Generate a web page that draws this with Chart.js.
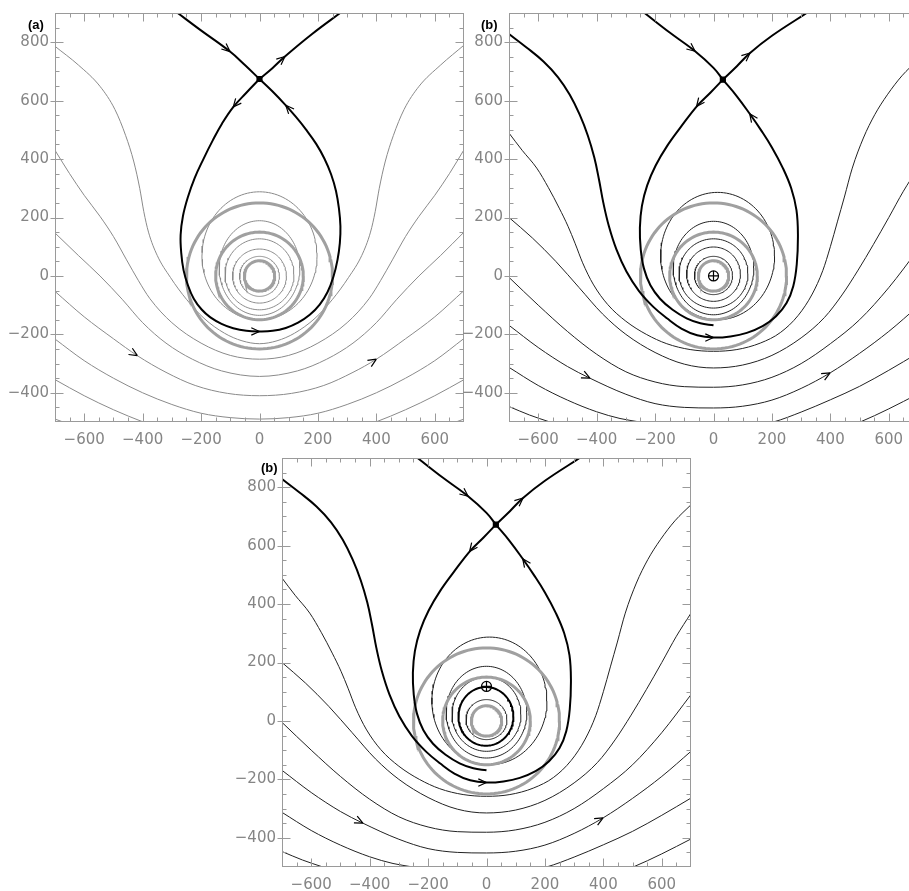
<!DOCTYPE html>
<html><head><meta charset="utf-8">
<script src="https://cdn.jsdelivr.net/npm/chart.js@4.4.1/dist/chart.umd.min.js"></script>
<style>
html,body{margin:0;padding:0;background:#fff;overflow:hidden;width:909px;height:891px;position:relative;}
.panel{position:absolute;}
.lab{position:absolute;font:bold 13px "Liberation Sans",Arial,sans-serif;color:#000;line-height:13px;}
</style></head><body>
<div class="panel" style="left:0px;top:-7px"><canvas id="ca" width="480" height="459"></canvas></div>
<div class="panel" style="left:454px;top:-7px"><canvas id="cb" width="480" height="459"></canvas></div>
<div class="panel" style="left:227px;top:438px"><canvas id="cc" width="480" height="459"></canvas></div>
<div class="lab" style="left:28px;top:18px">(a)</div>
<div class="lab" style="left:481px;top:18px">(b)</div>
<div class="lab" style="left:261px;top:461px">(b)</div>
<script>
// ---------- tick labels ----------
const xTickValues = [-600,-400,-200,0,200,400,600];
const yTickValues = [-400,-200,0,200,400,600,800];
const panelLabels = ['(a)','(b)','(b)'];

// thick grey rings, centred on the origin (radius)
const grayRingRadii = [52,150,250];

// ---------- panel (a) ----------
const aXPoint = [[0,674]];
const aSepTopLeft  = [[-280,900],[-204,843],[-101,768],[-50,722],[0,674]];
const aSepTopRight = [[0,674],[45,712],[87,751],[180,828],[276,900]];
const aSepLoop = [[0,674],[-45,627],[-90,578],[-128,522],[-160,464],[-192,400],[-222,335],[-245,270],[-262,205],[-270,140],[-268,80],[-260,20],[-245,-32],[-225,-78],[-198,-115],[-168,-142],[-130,-164],[-90,-179],[-45,-188],[0,-190],[45,-188],[90,-178],[132,-160],[172,-133],[206,-98],[233,-55],[253,-3],[267,55],[275,112],[277,170],[272,230],[262,290],[245,348],[222,402],[194,452],[160,500],[124,545],[86,588],[44,632],[0,674]];
// closed thin loops: [cx, cy, rx, ryTop, ryBottom]
const aRings = [[0,68,197,220,218],[0,27,138,162,162],[0,5,118,122,121],[0,0,92,92,93],[0,-1,68,68,69]];
const aStream1 = [[-700,786],[-620,722],[-546,649],[-495,570],[-458,480],[-430,390],[-410,300],[-396,220],[-380,150],[-350,70],[-305,-5],[-250,-80],[-190,-145],[-120,-196],[-60,-222],[0,-232],[60,-222],[120,-196],[190,-145],[250,-80],[305,-5],[350,70],[380,150],[396,220],[410,300],[430,390],[458,480],[495,570],[546,649],[620,722],[700,790]];
const aStream2 = [[-700,430],[-650,350],[-600,276],[-546,204],[-500,135],[-455,55],[-415,-15],[-375,-78],[-300,-160],[-200,-230],[-100,-272],[0,-285],[100,-272],[200,-230],[300,-160],[375,-78],[415,-15],[455,55],[500,135],[546,204],[600,276],[650,350],[700,432]];
const aStream3 = [[-700,147],[-620,70],[-546,0],[-470,-80],[-400,-160],[-320,-230],[-230,-285],[-130,-325],[0,-344],[130,-325],[230,-285],[320,-230],[400,-160],[470,-80],[546,0],[620,70],[700,150]];
const aStream4 = [[-700,-53],[-600,-140],[-500,-215],[-418,-273],[-320,-330],[-220,-375],[-110,-402],[0,-410],[110,-402],[220,-375],[320,-330],[400,-285],[500,-215],[600,-140],[700,-50]];
const aStream5 = [[-700,-216],[-600,-290],[-500,-350],[-400,-400],[-300,-440],[-200,-470],[-100,-485],[0,-490],[100,-485],[200,-470],[300,-440],[400,-400],[500,-350],[600,-290],[700,-214]];
const aStream6 = [[-700,-355],[-600,-410],[-500,-458],[-398,-500],[-300,-535],[-150,-560],[0,-568],[150,-560],[300,-535],[398,-500],[500,-458],[600,-410],[700,-355]];
const aStream7 = [[-700,-490],[-672,-500],[-600,-530],[-450,-580],[-300,-610],[0,-640],[300,-610],[450,-580],[600,-530],[672,-500],[700,-490]];
// arrows: [x, y, dirX, dirY]
const aArrows = [[-101,768,1,-0.85],[87,751,1,0.85],[-90,578,-1,-1.2],[90,584,-1,1.1],[0,-190,1,0],[-418,-273,1,-0.62],[400,-285,1,0.62]];

// ---------- panels (b) : shared streamlines ----------
const bcXPoint = [[32,672]];
const bcSepTopLeft  = [[-236,900],[-150,833],[-63,769],[0,712],[32,672]];
const bcSepTopRight = [[32,672],[80,718],[125,763],[200,822],[319,900]];
const bcSepOuter = [[-700,828],[-640,782],[-582,734],[-532,680],[-492,620],[-458,552],[-430,480],[-408,405],[-392,330],[-377,250],[-358,170],[-332,90],[-298,15],[-255,-52],[-206,-106],[-158,-146],[-110,-180],[-56,-203],[0,-211],[58,-207],[114,-195],[168,-172],[214,-138],[250,-93],[273,-35],[285,40],[289,141],[284,225],[266,300],[237,370],[200,440],[162,500],[124,555],[80,615],[32,672]];
const bcSepInner = [[32,672],[-10,628],[-55,583],[-108,515],[-158,446],[-198,378],[-227,310],[-245,240],[-252,165],[-249,90],[-238,25],[-216,-32],[-183,-78],[-140,-116],[-92,-145],[-45,-162],[0,-169]];
const bcStream1 = [[-700,489],[-655,430],[-605,369],[-565,302],[-528,232],[-498,170],[-474,112],[-448,45],[-412,-28],[-362,-98],[-300,-155],[-230,-200],[-160,-232],[-80,-252],[0,-258],[80,-252],[160,-230],[230,-193],[290,-135],[338,-62],[374,18],[400,100],[424,185],[448,270],[475,369],[513,472],[552,552],[595,620],[645,685],[700,740]];
const bcStream2 = [[-700,200],[-620,130],[-540,50],[-460,-40],[-380,-130],[-300,-200],[-200,-262],[-100,-302],[0,-315],[100,-305],[200,-272],[300,-212],[380,-142],[440,-65],[495,20],[547,107],[600,200],[650,290],[700,369]];
const bcStream3 = [[-700,-5],[-600,-100],[-500,-190],[-400,-268],[-300,-328],[-200,-363],[-100,-379],[0,-381],[100,-373],[200,-347],[300,-300],[400,-232],[500,-150],[600,-40],[700,90]];
const bcStream4 = [[-700,-169],[-600,-245],[-500,-310],[-423,-350],[-300,-405],[-200,-437],[-100,-450],[0,-452],[100,-446],[200,-425],[300,-385],[399,-332],[500,-265],[600,-190],[700,-104]];
const bcStream5 = [[-700,-313],[-600,-375],[-500,-425],[-400,-465],[-320,-488],[-252,-500],[-150,-520],[0,-530],[100,-520],[205,-500],[300,-466],[400,-424],[500,-378],[600,-323],[700,-264]];
const bcStream6 = [[-700,-447],[-630,-476],[-560,-500],[-450,-535],[-300,-570],[0,-600],[300,-575],[502,-500],[600,-455],[700,-404]];
const bcArrows = [[-63,769,1,-0.8],[125,763,1,0.85],[-58,580,-1,-1.3],[124,555,-1,1.4],[0,-211,1,0],[-423,-350,1,-0.5],[399,-332,1,0.55]];

const bRings = [[14,68,195,218,218],[0,27,138,160,160],[0,8,118,119,118],[0,6,92,93,93],[0,1,65,66,65]];
const bCross = [[0,0]];

const cRings = [[10,68,197,219,218],[0,28,138,159,155],[0,22,118,128,126],[0,4,70,69,68]];
const cOrbit = [[-2,15,94,101,100]];
const cCross = [[0,118]];

// ---------- helpers ----------
function pts(arr){ return arr.map(p => ({x:p[0], y:p[1]})); }
function ringPts(r){
  const [cx,cy,rx,ryT,ryB] = r; const out = [];
  for (let i=0;i<=120;i++){ const t=i/120*2*Math.PI, s=Math.sin(t);
    out.push({x:cx+rx*Math.cos(t), y:cy+(s>=0?ryT:ryB)*s}); }
  return out;
}
function lineDS(data, color, width, mode){
  const ds = {data, showLine:true, borderColor:color, borderWidth:width, pointRadius:0, fill:false, clip:0};
  if (mode === 'mono') { ds.cubicInterpolationMode = 'monotone'; }
  else if (mode === 'straight') { ds.tension = 0; }
  else { ds.tension = 0.4; }
  return ds;
}
function pointDS(arr, style, radius, fillColor){
  return {data:pts(arr), showLine:false, pointStyle:style, pointRadius:radius,
          pointBackgroundColor:fillColor, pointBorderColor:'#000', pointBorderWidth:1.2, clip:0};
}
function fmt(v){ return v<0 ? '\u2212'+Math.abs(v) : String(v); }

const framePlugin = {id:'frame', afterDraw(chart){
  const {ctx, chartArea:a, scales:{x,y}} = chart;
  ctx.save(); ctx.strokeStyle='#9a9a9a'; ctx.lineWidth=1;
  const L=Math.round(a.left)+0.5, R=Math.round(a.right)-0.5, T=Math.round(a.top)+0.5, B=Math.round(a.bottom)-0.5;
  ctx.strokeRect(L,T,R-L,B-T);
  ctx.beginPath();
  for (let v=-650; v<700; v+=50){
    const len = xTickValues.includes(v) ? 8 : 4;
    const px = Math.round(x.getPixelForValue(v))+0.5;
    ctx.moveTo(px,B); ctx.lineTo(px,B-len); ctx.moveTo(px,T); ctx.lineTo(px,T+len);
  }
  for (let v=-450; v<900; v+=50){
    const major = yTickValues.includes(v);
    const len = major ? 8 : 4;
    const py = Math.round(y.getPixelForValue(v))+0.5;
    ctx.moveTo(major ? L-5 : L,py); ctx.lineTo(L+len,py); ctx.moveTo(R,py); ctx.lineTo(R-len,py);
  }
  ctx.stroke(); ctx.restore();
}};

function arrowPlugin(list){ return {id:'arrows', afterDatasetsDraw(chart){
  const {ctx, chartArea:a, scales:{x,y}} = chart;
  ctx.save(); ctx.beginPath(); ctx.rect(a.left,a.top,a.right-a.left,a.bottom-a.top); ctx.clip();
  ctx.strokeStyle='#000'; ctx.lineWidth=1.2; ctx.beginPath();
  list.forEach(([vx,vy,dx,dy]) => {
    const px=x.getPixelForValue(vx), py=y.getPixelForValue(vy);
    const ux = x.getPixelForValue(vx+dx)-px, uy = y.getPixelForValue(vy+dy)-py;
    const n=Math.hypot(ux,uy), cx=ux/n, cy=uy/n, Lh=9, ang=0.42;
    [ang,-ang].forEach(t => {
      const bx = -(cx*Math.cos(t)-cy*Math.sin(t)), by = -(cx*Math.sin(t)+cy*Math.cos(t));
      ctx.moveTo(px,py); ctx.lineTo(px+bx*Lh, py+by*Lh);
    });
  });
  ctx.stroke(); ctx.restore();
}}; }

function makeChart(id, datasets, arrows){
  const tickFont = {family:'DejaVu Sans', size:15};
  return new Chart(document.getElementById(id), {
    type:'scatter', data:{datasets},
    options:{
      responsive:false, animation:false, devicePixelRatio:1, events:[],
      layout:{padding:{left:0, top:20, right:16, bottom:0}},
      plugins:{legend:{display:false}, tooltip:{enabled:false}},
      scales:{
        x:{type:'linear', min:-700, max:700,
           afterBuildTicks:s=>{ s.ticks = xTickValues.map(v=>({value:v})); },
           afterFit:s=>{ s.height = 30; },
           ticks:{color:'#858585', font:tickFont, padding:9, maxRotation:0, autoSkip:false, callback:fmt},
           grid:{display:false, drawTicks:false}, border:{display:false}},
        y:{type:'linear', min:-500, max:900,
           afterBuildTicks:s=>{ s.ticks = yTickValues.map(v=>({value:v})); },
           afterFit:s=>{ s.width = 55; },
           ticks:{color:'#858585', font:tickFont, padding:6, autoSkip:false, callback:fmt},
           grid:{display:false, drawTicks:false}, border:{display:false}}
      }
    },
    plugins:[framePlugin, arrowPlugin(arrows)]
  });
}

const GREY_THIN = '#8a8a8a', GREY_RING = '#a0a0a0', BLACK = '#000', DARK = '#222';
const ringSet = () => grayRingRadii.map(r => lineDS(ringPts([0,0,r,r,r]), GREY_RING, 3, 'straight'));

// panel (a)
makeChart('ca', [
  pointDS(aXPoint,'rect',3.5,'#000'),
  lineDS(pts(aSepTopLeft), BLACK, 2),
  lineDS(pts(aSepTopRight), BLACK, 2),
  lineDS(pts(aSepLoop), BLACK, 2),
  ...ringSet(),
  ...aRings.map(r => lineDS(ringPts(r), GREY_THIN, 1, 'straight')),
  ...[aStream1,aStream2,aStream3,aStream4,aStream5,aStream6,aStream7].map(s => lineDS(pts(s), GREY_THIN, 1, 'mono'))
], aArrows);

function bcStreams(){ return [bcStream1,bcStream2,bcStream3,bcStream4,bcStream5,bcStream6].map(s => lineDS(pts(s), DARK, 1, 'mono')); }
function bcSeps(){ return [bcSepTopLeft,bcSepTopRight,bcSepOuter,bcSepInner].map(s => lineDS(pts(s), BLACK, 2)); }

// panel (b) top right
makeChart('cb', [
  pointDS(bcXPoint,'rect',3.5,'#000'),
  pointDS(bCross,'cross',5,'rgba(0,0,0,0)'),
  pointDS(bCross,'circle',5,'rgba(0,0,0,0)'),
  ...bcSeps(),
  ...ringSet(),
  ...bRings.map(r => lineDS(ringPts(r), DARK, 1, 'straight')),
  ...bcStreams()
], bcArrows);

// panel (b) bottom
makeChart('cc', [
  pointDS(bcXPoint,'rect',3.5,'#000'),
  pointDS(cCross,'cross',5,'rgba(0,0,0,0)'),
  pointDS(cCross,'circle',5,'rgba(0,0,0,0)'),
  ...bcSeps(),
  ...cOrbit.map(r => lineDS(ringPts(r), BLACK, 2, 'straight')),
  ...ringSet(),
  ...cRings.map(r => lineDS(ringPts(r), DARK, 1, 'straight')),
  ...bcStreams()
], bcArrows);
</script>
</body></html>
